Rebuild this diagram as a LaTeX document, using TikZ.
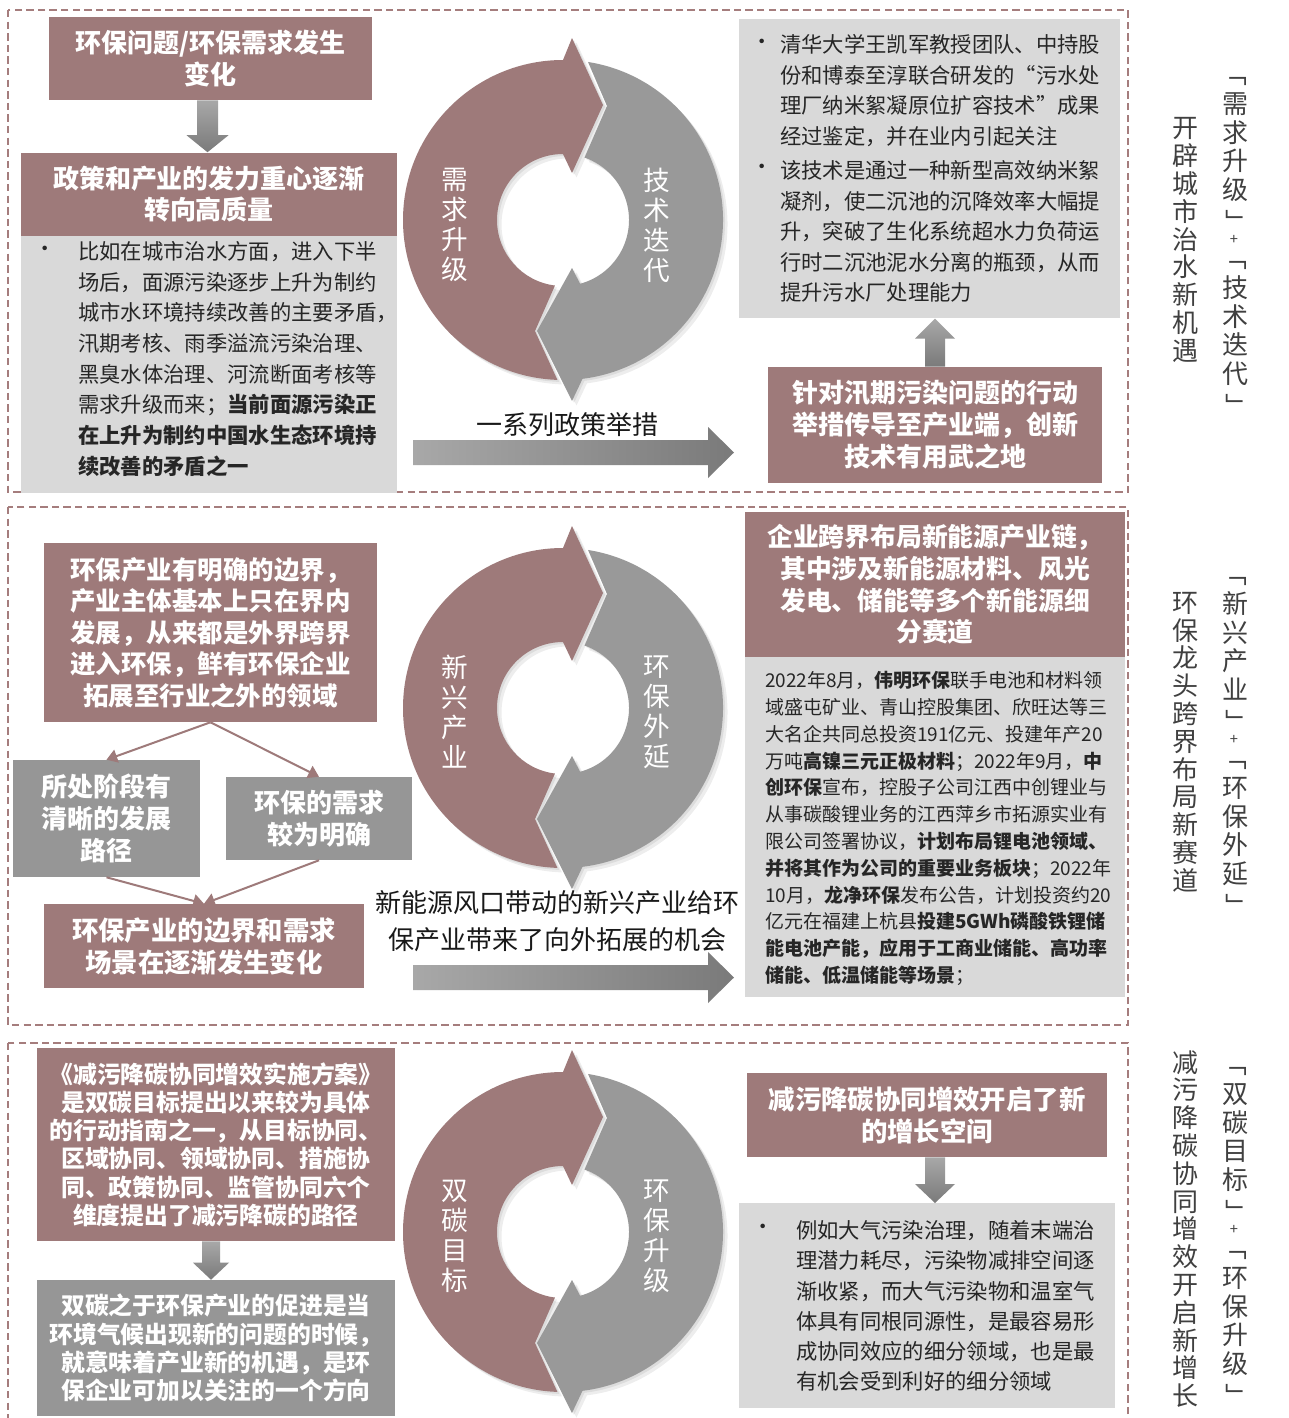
\documentclass[tikz,border=0pt]{standalone}
\usepackage{fontspec}
\usepackage{graphicx}
\setmainfont{Noto Sans CJK SC}
\usetikzlibrary{calc,arrows.meta}
\newdimen\px \px=0.75pt
\definecolor{mauve}{RGB}{158,122,122}
\definecolor{framec}{RGB}{165,125,125}
\definecolor{gbox}{RGB}{150,150,150}
\definecolor{lbox}{RGB}{217,217,217}
\definecolor{cgray}{RGB}{153,153,153}
\definecolor{txt}{RGB}{38,38,38}
\definecolor{vtxt}{RGB}{64,64,64}
\definecolor{arrA}{RGB}{168,168,168}
\definecolor{arrB}{RGB}{122,122,122}
\tikzset{
  dframe/.style={draw=framec, line width=1.1pt, dash pattern=on 5.5pt off 3.2pt},
  mbox/.style={fill=mauve, inner sep=0pt, text=white, align=center, font=\fontsize{19.5}{23.6}\selectfont\bfseries},
  gbx/.style={fill=gbox, inner sep=0pt, text=white, align=center, font=\fontsize{19.5}{24}\selectfont\bfseries},
  lbx/.style={fill=lbox, inner sep=0pt},
  body/.style={inner sep=0pt, text=txt, align=left, font=\fontsize{16}{23}\selectfont},
  bul/.style={inner sep=0pt, text=txt, font=\fontsize{16}{16}\selectfont},
  clab/.style={text=white, align=center, inner sep=0pt, font=\fontsize{20}{22.5}\selectfont},
  vlab/.style={text=vtxt, align=center, inner sep=0pt, font=\fontsize{19.5}{20.85}\selectfont},
  blab/.style={text=vtxt, align=center, inner sep=0pt, font=\fontsize{19.5}{21.5}\selectfont},
  plab/.style={text=vtxt, inner sep=0pt, font=\fontsize{11}{11}\selectfont},
  captx/.style={text=black!90, align=center, inner sep=0pt, font=\fontsize{19.5}{27.75}\selectfont},
  conn/.style={draw=mauve, line width=1.5pt, -{Triangle[length=8pt,width=10pt]}},
  vblk/.style={top color=arrA, bottom color=arrB},
  hblk/.style={left color=arrA, right color=arrB},
}
\newcommand\obr{\rotatebox[origin=c]{-90}{「}}
\newcommand\cbr{\rotatebox[origin=c]{-90}{」}}
\newcommand\mauvepath{(-268:160) arc[start angle=-268,end angle=-90,radius=160]
    -- (9,-182) -- (40,-115) -- (9,-47) -- (-90:66)
    arc[start angle=-90,end angle=-263,radius=66] -- (-28,111) -- cycle}
\newcommand\graypath{(-81:160) arc[start angle=-81,end angle=83,radius=160]
    -- (9,181) -- (-26,111) -- (9,48) -- (75:66)
    arc[start angle=75,end angle=-71,radius=66] -- (44,-114) -- cycle}
\newcommand\ringpair[1]{%
  \fill[black,opacity=0.07,shift={(#1)},xshift=4.5\px,yshift=-4.5\px] \mauvepath;
  \fill[black,opacity=0.07,shift={(#1)},xshift=4.5\px,yshift=-4.5\px] \graypath;
  \fill[black,opacity=0.07,shift={(#1)},xshift=2\px,yshift=-2\px] \mauvepath;
  \fill[black,opacity=0.07,shift={(#1)},xshift=2\px,yshift=-2\px] \graypath;
  \fill[mauve,shift={(#1)}] \mauvepath;
  \fill[cgray,shift={(#1)}] \graypath;}
\newcommand\harrow[2]{%
  \shade[hblk] ($(#1)+(0,-12.5)$) -- ($(#2)+(-26,-12.5)$) -- ($(#2)+(-26,-25.5)$) -- (#2)
    -- ($(#2)+(-26,25.5)$) -- ($(#2)+(-26,12.5)$) -- ($(#1)+(0,12.5)$) -- cycle;}
\newcommand\darrow[5]{%
  \shade[vblk] ($(#1)+(-#3,0)$) -- ($(#1)+(#3,0)$) -- ($(#2)+(#3,-#5)$) -- ($(#2)+(#4,-#5)$)
    -- (#2) -- ($(#2)+(-#4,-#5)$) -- ($(#2)+(-#3,-#5)$) -- cycle;}
\newcommand\uarrow[5]{%
  \shade[vblk] ($(#1)+(-#3,0)$) -- ($(#1)+(#3,0)$) -- ($(#2)+(#3,#5)$) -- ($(#2)+(#4,#5)$)
    -- (#2) -- ($(#2)+(-#4,#5)$) -- ($(#2)+(-#3,#5)$) -- cycle;}
\begin{document}
\begin{tikzpicture}[x=0.75pt,y=-0.75pt]
\useasboundingbox (0,0) rectangle (1289,1418);
\fill[white] (0,0) rectangle (1289,1418);

% ---------- frames ----------
\draw[dframe] (8,10) rectangle (1128,492);
\draw[dframe] (8,507) rectangle (1128,1025);
\draw[dframe] (8,1043) rectangle (1128,1440);

% ================= Section 1 =================
\node[mbox, minimum width=323\px, minimum height=83\px] (A) at (210.5,58.5)
  {环保问题/环保需求发生\\变化};
\node[mbox, minimum width=376\px, minimum height=83\px] (B) at (209,194)
  {政策和产业的发力重心逐渐\\转向高质量};
\node[lbx, minimum width=376\px, minimum height=257\px, anchor=north] (C) at (209,235.5) {};
\node[bul] (Cb) at (45,251) {•};
\node[body, anchor=west] (Ct) at (78,359)
  {比如在城市治水方面，进入下半\\
   场后，面源污染逐步上升为制约\\
   城市水环境持续改善的主要矛盾，\\
   汛期考核、雨季溢流污染治理、\\
   黑臭水体治理、河流断面考核等\\
   需求升级而来；\textbf{当前面源污染正}\\
   \textbf{在上升为制约中国水生态环境持}\\
   \textbf{续改善的矛盾之一}};
\coordinate (A1) at ($(A.south)+(-3,0)$);
\coordinate (A2) at (A1 |- B.north);
\darrow{A1}{A2}{10.5}{21}{17}

\coordinate (c1) at (563,220);
\ringpair{c1}
\node[clab] (c1l) at (455,225) {需\\求\\升\\级};
\node[clab] (c1r) at (657,225) {技\\术\\迭\\代};

\node[captx] (cap1) at (567,425) {一系列政策举措};
\coordinate (h1s) at (413,452.5);
\coordinate (h1e) at (734,452.5);
\harrow{h1s}{h1e}

\node[lbx, minimum width=381\px, minimum height=299\px, anchor=north west] (D) at (739,19) {};
\node[bul] (Db1) at (762,44) {•};
\node[body, anchor=west, font=\fontsize{16}{22.9}\selectfont] (Dt1) at (780,90.5)
  {清华大学王凯军教授团队、中持股\\
   份和博泰至淳联合研发的“污水处\\
   理厂纳米絮凝原位扩容技术”成果\\
   经过鉴定，并在业内引起关注};
\node[bul] (Db2) at (762,169) {•};
\node[body, anchor=west, font=\fontsize{16}{22.9}\selectfont] (Dt2) at (780,231.5)
  {该技术是通过一种新型高效纳米絮\\
   凝剂，使二沉池的沉降效率大幅提\\
   升，突破了生化系统超水力负荷运\\
   行时二沉池泥水分离的瓶颈，从而\\
   提升污水厂处理能力};
\node[mbox, minimum width=334\px, minimum height=116\px, font=\fontsize{19.5}{24}\selectfont\bfseries] (E) at (935,425)
  {针对汛期污染问题的行动\\举措传导至产业端，创新\\技术有用武之地};
\coordinate (E1) at (E.north);
\coordinate (E2) at (E.north |- D.south);
\uarrow{E1}{E2}{10}{20}{20}

\node[vlab] (v1) at (1185,240) {开\\辟\\城\\市\\治\\水\\新\\机\\遇};
\node[blab] (b1a) at (1235,148) {\obr\\需\\求\\升\\级\\\cbr};
\node[plab] (b1p) at (1234,240) {+};
\node[blab] (b1b) at (1235,332) {\obr\\技\\术\\迭\\代\\\cbr};

% ================= Section 2 =================
\node[mbox, minimum width=333\px, minimum height=179\px, font=\fontsize{19.1}{23.6}\selectfont\bfseries] (F) at (210.5,632.5)
  {环保产业有明确的边界，\\产业主体基本上只在界内\\发展，从来都是外界跨界\\进入环保，鲜有环保企业\\拓展至行业之外的领域};
\node[gbx, minimum width=187\px, minimum height=117\px] (G) at (106.5,818.5)
  {所处阶段有\\清晰的发展\\路径};
\node[gbx, minimum width=186\px, minimum height=83\px] (H) at (319,818.5)
  {环保的需求\\较为明确};
\node[mbox, minimum width=320\px, minimum height=84\px, font=\fontsize{19.8}{24}\selectfont\bfseries] (I) at (204,946)
  {环保产业的边界和需求\\场景在逐渐发生变化};
\draw[conn] (F.south) -- (G.north);
\draw[conn] (F.south) -- (H.north);
\draw[conn] (G.south) -- (I.north);
\draw[conn] (H.south) -- (I.north);

\coordinate (c2) at (563,708);
\ringpair{c2}
\node[clab] (c2l) at (455,712) {新\\兴\\产\\业};
\node[clab] (c2r) at (657,712) {环\\保\\外\\延};

\node[captx] (cap2) at (557,921.5) {新能源风口带动的新兴产业给环\\保产业带来了向外拓展的机会};
\coordinate (h2s) at (413,977.5);
\coordinate (h2e) at (734,977.5);
\harrow{h2s}{h2e}

\node[mbox, minimum width=380\px, minimum height=145\px, font=\fontsize{19.35}{23.8}\selectfont\bfseries] (J) at (935,584.5)
  {企业跨界布局新能源产业链，\\其中涉及新能源材料、风光\\发电、储能等多个新能源细\\分赛道};
\node[lbx, minimum width=380\px, minimum height=340\px, anchor=north] (K) at (935,657) {};
\node[body, anchor=west, font=\fontsize{14.25}{20.1}\selectfont] (Kt) at (765,828.5)
  {2022年8月，\textbf{伟明环保}联手电池和材料领\\
   域盛屯矿业、青山控股集团、欣旺达等三\\
   大名企共同总投资191亿元、投建年产20\\
   万吨\textbf{高镍三元正极材料}；2022年9月，\textbf{中}\\
   \textbf{创环保}宣布，控股子公司江西中创锂业与\\
   从事碳酸锂业务的江西萍乡市拓源实业有\\
   限公司签署协议，\textbf{计划布局锂电池领域、}\\
   \textbf{并将其作为公司的重要业务板块}；2022年\\
   10月，\textbf{龙净环保}发布公告，计划投资约20\\
   亿元在福建上杭县\textbf{投建5GWh磷酸铁锂储}\\
   \textbf{能电池产能，应用于工商业储能、高功率}\\
   \textbf{储能、低温储能等场景}；};

\node[vlab] (v2) at (1185,742) {环\\保\\龙\\头\\跨\\界\\布\\局\\新\\赛\\道};
\node[blab] (b2a) at (1235,648) {\obr\\新\\兴\\产\\业\\\cbr};
\node[plab] (b2p) at (1234,740) {+};
\node[blab] (b2b) at (1235,832) {\obr\\环\\保\\外\\延\\\cbr};

% ================= Section 3 =================
\node[mbox, minimum width=358\px, minimum height=193\px, font=\fontsize{17.85}{21.2}\selectfont\bfseries] (L) at (216,1144.5)
  {《减污降碳协同增效实施方案》\\是双碳目标提出以来较为具体\\的行动指南之一，从目标协同、\\区域协同、领域协同、措施协\\同、政策协同、监管协同六个\\维度提出了减污降碳的路径};
\node[gbx, minimum width=358\px, minimum height=136\px, font=\fontsize{17.85}{21.2}\selectfont\bfseries] (M) at (216,1348)
  {双碳之于环保产业的促进是当\\环境气候出现新的问题的时候，\\就意味着产业新的机遇，是环\\保企业可加以关注的一个方向};
\coordinate (L1) at ($(L.south)+(-5,0)$);
\coordinate (L2) at (L1 |- M.north);
\darrow{L1}{L2}{9}{18}{17}

\coordinate (c3) at (563,1232);
\ringpair{c3}
\node[clab] (c3l) at (455,1236) {双\\碳\\目\\标};
\node[clab] (c3r) at (657,1236) {环\\保\\升\\级};

\node[mbox, minimum width=360\px, minimum height=84\px, font=\fontsize{19.8}{24}\selectfont\bfseries] (N) at (927,1115)
  {减污降碳协同增效开启了新\\的增长空间};
\node[lbx, minimum width=376\px, minimum height=205\px, anchor=north west] (O) at (739,1203) {};
\node[bul] (Ob) at (763,1229) {•};
\node[body, anchor=west, font=\fontsize{16}{22.6}\selectfont] (Ot) at (796,1306)
  {例如大气污染治理，随着末端治\\
   理潜力耗尽，污染物减排空间逐\\
   渐收紧，而大气污染物和温室气\\
   体具有同根同源性，是最容易形\\
   成协同效应的细分领域，也是最\\
   有机会受到利好的细分领域};
\coordinate (N1) at ($(N.south)+(8,0)$);
\coordinate (N2) at (N1 |- O.north);
\darrow{N1}{N2}{10}{20}{19}

\node[vlab] (v3) at (1185,1229) {减\\污\\降\\碳\\协\\同\\增\\效\\开\\启\\新\\增\\长};
\node[blab] (b3a) at (1235,1138) {\obr\\双\\碳\\目\\标\\\cbr};
\node[plab] (b3p) at (1234,1230) {+};
\node[blab] (b3b) at (1235,1322) {\obr\\环\\保\\升\\级\\\cbr};
\end{tikzpicture}
\end{document}
